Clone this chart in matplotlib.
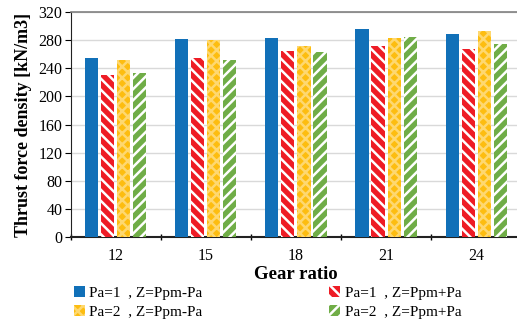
import numpy as np
import matplotlib
matplotlib.use("Agg")
import matplotlib.pyplot as plt

plt.rcParams['font.family'] = ['Liberation Serif', 'DejaVu Serif']
plt.rcParams['hatch.linewidth'] = 1.8

# data
ratios = ['12', '15', '18', '21', '24']
pa1_minus = [255, 282, 283, 296, 289]
pa1_plus = [230, 254, 265, 272, 267]
pa2_minus = [252, 280, 272, 283, 293]
pa2_plus = [234, 252, 263, 284, 275]

labels = ['Pa=1  , Z=Ppm-Pa', 'Pa=1  , Z=Ppm+Pa',
          'Pa=2  , Z=Ppm-Pa', 'Pa=2  , Z=Ppm+Pa']
colors = ['#1170b8', '#ee1c25', '#fdbd10', '#70ad47']
edges = [None, 'white', '#fed870', 'white']
hatches = [None, '\\\\\\', 'xxx', '///']

fig = plt.figure(figsize=(5.17, 3.2), dpi=100)
ax = fig.add_axes([0.137, 0.259, 0.871, 0.7035])

x = np.arange(len(ratios))
w = 0.145
step = 0.178
series = [pa1_minus, pa1_plus, pa2_minus, pa2_plus]
bars = []
for i, vals in enumerate(series):
    off = (i - 1.5) * step
    if hatches[i] is None:
        b = ax.bar(x + off, vals, w, color=colors[i], label=labels[i], zorder=3)
    else:
        b = ax.bar(x + off, vals, w, facecolor=colors[i], edgecolor=edges[i],
                   linewidth=0, hatch=hatches[i], label=labels[i], zorder=3)
    bars.append(b)

ax.set_xlim(-0.5, len(ratios) - 0.5)
ax.set_ylim(0, 320)
ax.set_yticks(np.arange(0, 321, 40))
ax.set_xticks(x)
ax.set_xticklabels(ratios)
ax.set_xticks(np.arange(-0.5, len(ratios), 1), minor=True)
ax.tick_params(axis='x', which='major', length=0, pad=8, labelsize=11.5)
ax.tick_params(axis='x', which='minor', length=5, direction='inout', width=1)
ax.tick_params(axis='y', length=4, direction='out', labelsize=11.5, pad=2)

ax.grid(axis='y', color='#d9d9d9', linewidth=1, zorder=0)
ax.spines['right'].set_visible(False)
ax.spines['top'].set_color('#808080')
ax.spines['top'].set_linewidth(1.2)
ax.spines['left'].set_color('#222222')
ax.spines['bottom'].set_color('#222222')
ax.spines['bottom'].set_linewidth(1.5)

ax.set_xlabel('Gear ratio', fontsize=13.5, fontweight='bold', labelpad=1)
ax.set_ylabel('Thrust force density [kN/m3]', fontsize=13, fontweight='bold', labelpad=5)

# row-wise order: legend fills columns first
order = [0, 2, 1, 3]
fig.legend(handles=[bars[i] for i in order], labels=[labels[i] for i in order],
           loc='upper left', ncol=2, bbox_to_anchor=(74 / 517, 1 - 286 / 320),
           frameon=False, fontsize=11, handlelength=0.7, handleheight=0.7,
           handletextpad=0.3, labelspacing=0.35, columnspacing=8.3,
           borderpad=0, borderaxespad=0)

fig.savefig('out.png', dpi=100)
